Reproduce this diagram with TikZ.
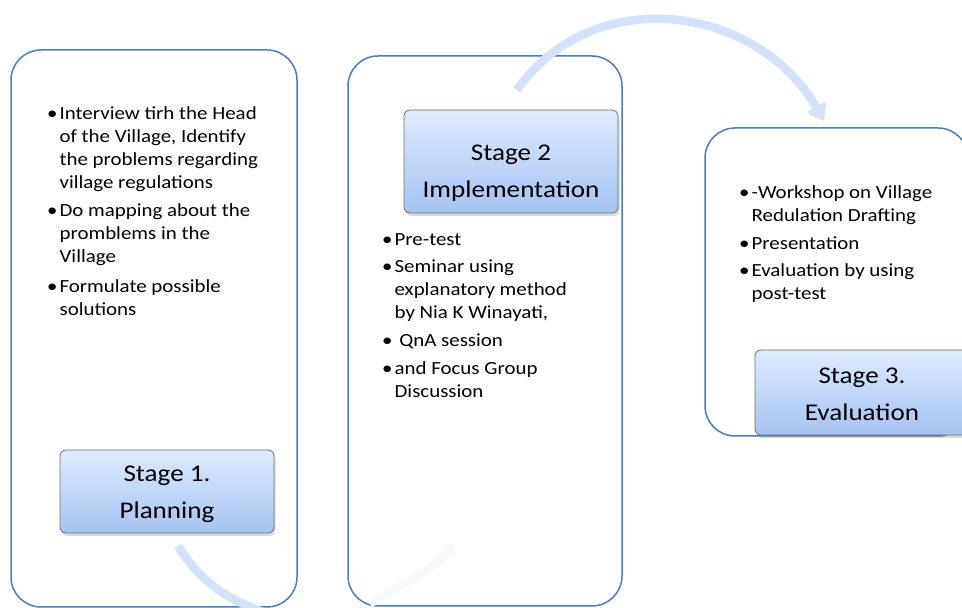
\documentclass[tikz,border=0pt]{standalone}
\usepackage{fontspec}
\setmainfont{Carlito}[FakeStretch=1.13]
\usetikzlibrary{arrows.meta,shadows}

\definecolor{panelblue}{HTML}{4A7EBB}
\definecolor{stagetop}{HTML}{DFEAFC}
\definecolor{stagebot}{HTML}{A5C3F4}
\definecolor{stageline}{HTML}{707070}
\definecolor{arcblue}{HTML}{D4E2F9}
\definecolor{arcfaint}{HTML}{F7F8FC}

\begin{document}
\begin{tikzpicture}[x=1pt,y=1pt]
  \tikzset{
    panel/.style={draw=panelblue, line width=1.5pt, rounded corners=30pt},
    stagebox/.style={draw=stageline, line width=0.8pt, rounded corners=6pt,
      top color=stagetop, bottom color=stagebot, minimum width=214pt,
      drop shadow={shadow xshift=1.5pt, shadow yshift=-3pt, opacity=0.3}},
    stagetext/.style={align=center, inner sep=0pt, font=\fontsize{24}{37}\selectfont},
    bullets/.style={anchor=base west, inner sep=0pt, font=\fontsize{18.5}{23}\selectfont},
    flowarc/.style={line width=8.5pt, draw=arcblue,
      preaction={draw=black, opacity=0.12, transform canvas={xshift=1pt, yshift=-2pt}}}
  }
  \useasboundingbox (0,0) rectangle (962,608);

  % the three panels
  \draw[panel] (11,1) rectangle (297,558);
  \draw[panel] (348,2) rectangle (622,552);
  \draw[panel] (705,172) rectangle (968,480);

  % what happens in each stage
  \node[bullets] (planlist) at (47,488) {%
    \begin{tabular}[t]{@{}l@{\hspace{2pt}}l@{}}
      \textbullet & Interview tirh the Head\\
                  & of the Village, Identify\\
                  & the problems regarding\\
                  & village regulations\\[5pt]
      \textbullet & Do mapping about the\\
                  & promblems in the\\
                  & Village\\[7pt]
      \textbullet & Formulate possible\\
                  & solutions
    \end{tabular}};
  \node[bullets] (impllist) at (382,362) {%
    \begin{tabular}[t]{@{}l@{\hspace{2pt}}l@{}}
      \textbullet & Pre-test\\[4pt]
      \textbullet & Seminar using\\
                  & explanatory method\\
                  & by Nia K Winayati,\\[5pt]
      \textbullet & \ QnA session\\[5pt]
      \textbullet & and Focus Group\\
                  & Discussion
    \end{tabular}};
  \node[bullets] (evallist) at (739,409) {%
    \begin{tabular}[t]{@{}l@{\hspace{2pt}}l@{}}
      \textbullet & -Workshop on Village\\
                  & Redulation Drafting\\[5pt]
      \textbullet & Presentation\\[4pt]
      \textbullet & Evaluation by using\\
                  & post-test
    \end{tabular}};

  % stage boxes
  \node[stagebox, minimum height=83pt] (plan) at (167,116.5) {};
  \node[stagetext] (plantext) at (167,113.5) {Stage 1.\\Planning};
  \node[stagebox, minimum height=103pt] (impl) at (511,446.5) {};
  \node[stagetext] (impltext) at (511,435) {Stage 2\\Implementation};
  \node[stagebox, minimum height=85pt] (eval) at (862,215.5) {};
  \node[stagetext] (evaltext) at (862,214) {Stage 3.\\Evaluation};

  % circular arrows between the stages
  \coordinate (arcA1) at (178,62);
  \coordinate (arcA2) at (268,-6);
  \coordinate (arcB1) at (370,4);
  \coordinate (arcB2) at (456,64);
  \coordinate (arcC1) at (517,518);
  \coordinate (arcC2) at (823,489);

  \draw[flowarc] (arcA1) to[out=-58, in=160] (arcA2);
  \draw[line width=8pt, draw=arcfaint, -{Triangle[width=18pt, length=12pt]}]
    (arcB1) to[out=32, in=-135] (arcB2);
  \draw[flowarc, -{Triangle[width=20pt, length=14pt]}]
    (arcC1) to[out=55, in=120, looseness=1.1] (arcC2);
\end{tikzpicture}
\end{document}
